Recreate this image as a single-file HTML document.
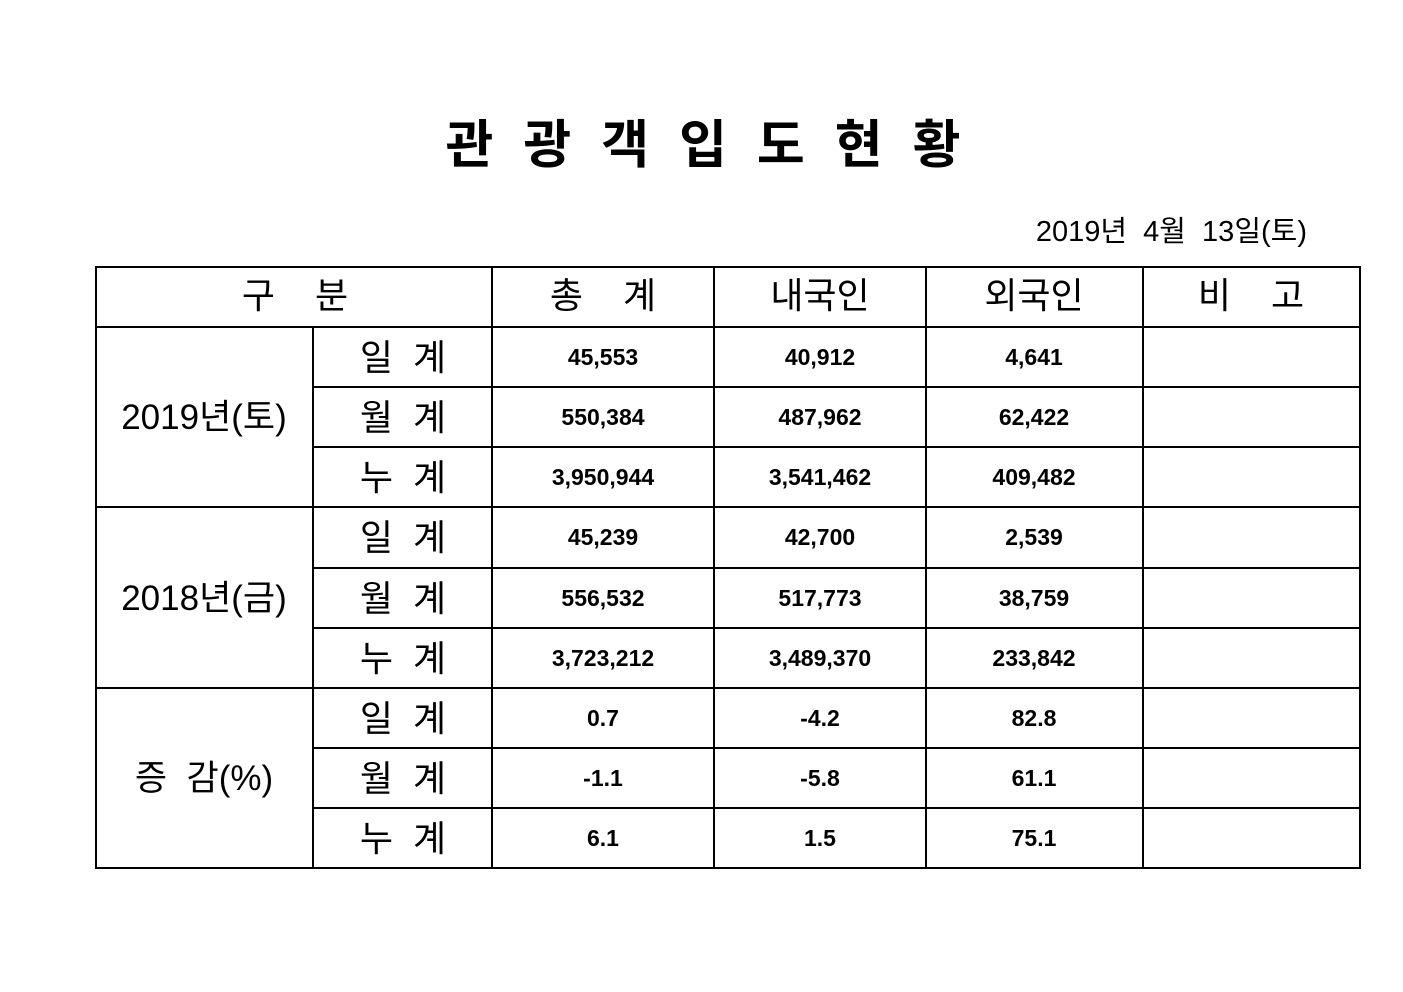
<!DOCTYPE html>
<html><head><meta charset="utf-8"><style>
html,body{margin:0;padding:0;background:#fff;}
svg{display:block;}
text{font-family:"Liberation Sans","Noto Sans CJK KR","NanumGothic",sans-serif;fill:#000;white-space:pre;}
.t{font-size:52px;font-weight:bold;}
.h{font-size:36px;}
.l{font-size:36px;}
.g{font-size:35px;}
.n{font-size:23px;font-weight:bold;}
.d{font-size:29px;}
</style></head><body>
<svg width="1403" height="992" xmlns="http://www.w3.org/2000/svg" xml:space="preserve">
<text class="t" x="718" y="163" text-anchor="middle" letter-spacing="30">관광객입도현황</text>
<text class="d" x="1307" y="241" text-anchor="end">2019년  4월  13일(토)</text>
<g stroke="#000" stroke-width="2" fill="none">
<rect x="96" y="267" width="1264" height="601"/>
<line x1="313" y1="327" x2="313" y2="868"/>
<line x1="492" y1="267" x2="492" y2="868"/>
<line x1="714" y1="267" x2="714" y2="868"/>
<line x1="926" y1="267" x2="926" y2="868"/>
<line x1="1143" y1="267" x2="1143" y2="868"/>
<line x1="96" y1="327" x2="1360" y2="327"/>
<line x1="313" y1="387" x2="1360" y2="387"/>
<line x1="313" y1="447" x2="1360" y2="447"/>
<line x1="96" y1="507" x2="1360" y2="507"/>
<line x1="313" y1="568" x2="1360" y2="568"/>
<line x1="313" y1="628" x2="1360" y2="628"/>
<line x1="96" y1="688" x2="1360" y2="688"/>
<line x1="313" y1="748" x2="1360" y2="748"/>
<line x1="313" y1="808" x2="1360" y2="808"/>
</g>
<g text-anchor="middle">
<text class="h" x="295" y="308">구    분</text>
<text class="h" x="603" y="308">총    계</text>
<text class="h" x="820" y="308">내국인</text>
<text class="h" x="1034" y="308">외국인</text>
<text class="h" x="1251" y="308">비    고</text>
</g>
<g text-anchor="middle">
<text class="g" x="204" y="429">2019년(토)</text>
<text class="g" x="204" y="610">2018년(금)</text>
<text class="g" x="204" y="790">증  감(%)</text>
</g>
<g text-anchor="middle">
<text class="l" x="403" y="370">일  계</text>
<text class="l" x="403" y="430">월  계</text>
<text class="l" x="403" y="490">누  계</text>
<text class="l" x="403" y="550">일  계</text>
<text class="l" x="403" y="611">월  계</text>
<text class="l" x="403" y="671">누  계</text>
<text class="l" x="403" y="731">일  계</text>
<text class="l" x="403" y="791">월  계</text>
<text class="l" x="403" y="851">누  계</text>
</g>
<g text-anchor="middle">
<text class="n" x="603" y="365">45,553</text><text class="n" x="820" y="365">40,912</text><text class="n" x="1034" y="365">4,641</text>
<text class="n" x="603" y="425">550,384</text><text class="n" x="820" y="425">487,962</text><text class="n" x="1034" y="425">62,422</text>
<text class="n" x="603" y="485">3,950,944</text><text class="n" x="820" y="485">3,541,462</text><text class="n" x="1034" y="485">409,482</text>
<text class="n" x="603" y="545">45,239</text><text class="n" x="820" y="545">42,700</text><text class="n" x="1034" y="545">2,539</text>
<text class="n" x="603" y="606">556,532</text><text class="n" x="820" y="606">517,773</text><text class="n" x="1034" y="606">38,759</text>
<text class="n" x="603" y="666">3,723,212</text><text class="n" x="820" y="666">3,489,370</text><text class="n" x="1034" y="666">233,842</text>
<text class="n" x="603" y="726">0.7</text><text class="n" x="820" y="726">-4.2</text><text class="n" x="1034" y="726">82.8</text>
<text class="n" x="603" y="786">-1.1</text><text class="n" x="820" y="786">-5.8</text><text class="n" x="1034" y="786">61.1</text>
<text class="n" x="603" y="846">6.1</text><text class="n" x="820" y="846">1.5</text><text class="n" x="1034" y="846">75.1</text>
</g>
</svg>
</body></html>
